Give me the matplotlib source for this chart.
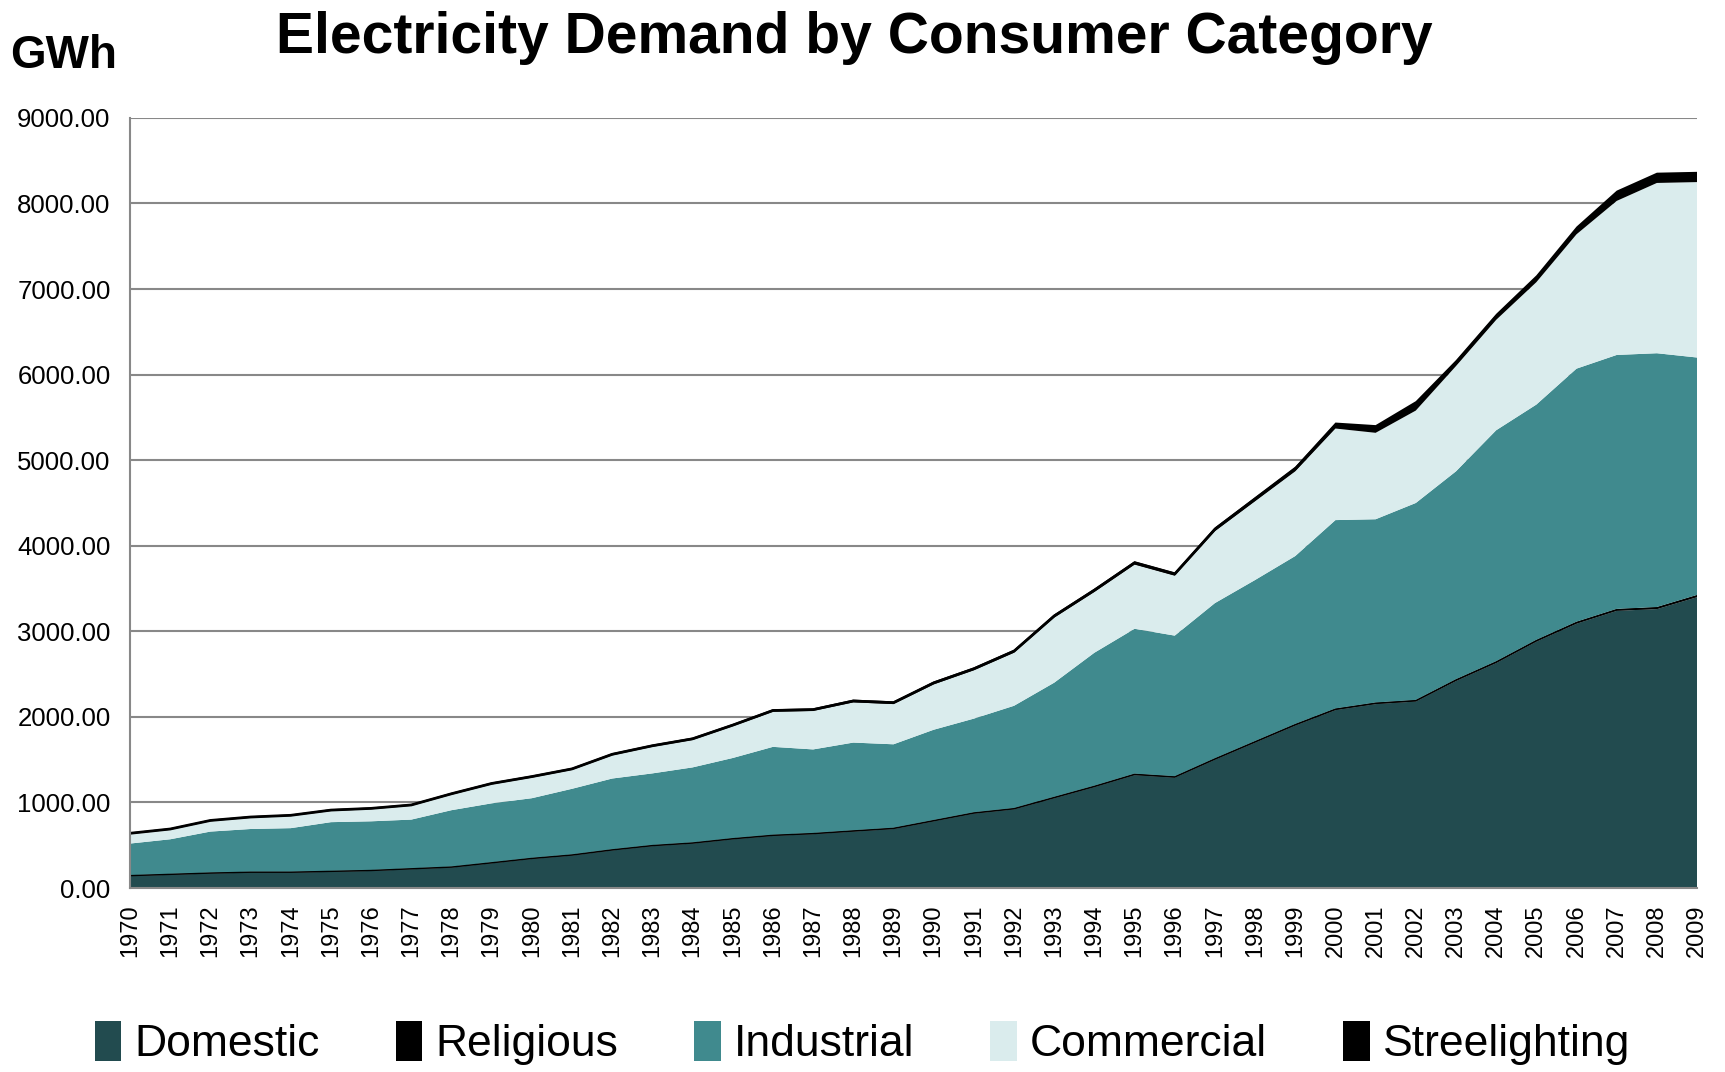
import numpy as np
import matplotlib.pyplot as plt
from matplotlib.patches import Patch
from matplotlib.ticker import FormatStrFormatter

years = list(range(1970, 2010))

# values, in GWh (stack order bottom -> top)
domestic = [140, 155, 170, 180, 180, 190, 200, 220, 240, 290,
            340, 380, 440, 490, 520, 570, 610, 630, 660, 690,
            780, 870, 920, 1050, 1180, 1320, 1290, 1500, 1700, 1900,
            2080, 2150, 2180, 2420, 2630, 2880, 3090, 3240, 3260, 3400]
religious = [10, 10, 10, 10, 10, 10, 10, 10, 10, 10,
             12, 12, 12, 12, 12, 12, 12, 12, 14, 14,
             14, 14, 14, 15, 15, 16, 16, 16, 17, 17,
             18, 18, 18, 20, 20, 20, 22, 22, 24, 25]
industrial_top = [520, 570, 660, 690, 700, 770, 780, 800, 910, 990,
                  1050, 1160, 1280, 1340, 1410, 1520, 1650, 1620, 1700, 1680,
                  1850, 1980, 2130, 2400, 2750, 3030, 2950, 3330, 3600, 3880,
                  4300, 4310, 4500, 4870, 5350, 5650, 6070, 6230, 6250, 6200]
commercial_top = [630, 680, 780, 820, 840, 900, 920, 960, 1090, 1210,
                  1290, 1380, 1550, 1650, 1730, 1890, 2060, 2070, 2170, 2150,
                  2380, 2545, 2750, 3160, 3460, 3780, 3650, 4170, 4520, 4870,
                  5370, 5320, 5580, 6100, 6640, 7080, 7640, 8030, 8240, 8250]
streetlighting = [20, 20, 20, 20, 20, 22, 22, 22, 24, 24,
                  25, 25, 26, 26, 28, 28, 30, 30, 32, 32,
                  34, 34, 36, 38, 40, 40, 40, 45, 50, 55,
                  70, 90, 110, 70, 70, 80, 90, 120, 120, 120]

industrial = [t - d - r for t, d, r in zip(industrial_top, domestic, religious)]
commercial = [c - i for c, i in zip(commercial_top, industrial_top)]

labels = ['Domestic', 'Religious', 'Industrial', 'Commercial', 'Streelighting']
colors = ['#224B4F', '#000000', '#408A8E', '#DAECED', '#000000']

plt.rcParams['font.family'] = ['Liberation Sans', 'DejaVu Sans']

fig = plt.figure(figsize=(17.25, 10.72), dpi=100)
ax = fig.add_axes([0.0754, 0.1716, 0.9084, 0.7184])

ax.stackplot(years, domestic, religious, industrial, commercial, streetlighting,
             colors=colors, linewidth=0)
# keep the thin black layers visible
base_r = np.array(domestic)
ax.plot(years, base_r + np.array(religious) / 2, color='black', lw=1.0)
top = np.array(commercial_top) + np.array(streetlighting)
ax.plot(years, top - np.array(streetlighting) / 2, color='black', lw=2)

ax.set_xlim(1970, 2009)
ax.set_ylim(0, 9000)
ax.set_yticks(np.arange(0, 9001, 1000))
ax.yaxis.set_major_formatter(FormatStrFormatter('%.2f'))
ax.set_xticks(years)
ax.set_xticklabels([str(y) for y in years], rotation=90, fontsize=17)
ax.tick_params(axis='y', labelsize=18.5, length=0, pad=14)
ax.tick_params(axis='x', length=0, pad=12)
ax.grid(axis='y', color='#888888', lw=1.5)
ax.set_axisbelow(True)
for s in ['top', 'right']:
    ax.spines[s].set_visible(False)
for s in ['left', 'bottom']:
    ax.spines[s].set_color('#888888')
    ax.spines[s].set_linewidth(1.5)

fig.text(0.495, 0.965, 'Electricity Demand by Consumer Category',
         ha='center', va='center', fontsize=41, fontweight='bold')
fig.text(0.006, 0.948, 'GWh', ha='left', va='center', fontsize=33, fontweight='bold')

handles = [Patch(facecolor=c, edgecolor='none') for c in colors]
fig.legend(handles, labels, loc='center', bbox_to_anchor=(0.5, 0.027), ncol=5,
           frameon=False, fontsize=32, handlelength=0.6, handleheight=1.0,
           handletextpad=0.3, columnspacing=1.7)

fig.savefig('out.png', dpi=100)
